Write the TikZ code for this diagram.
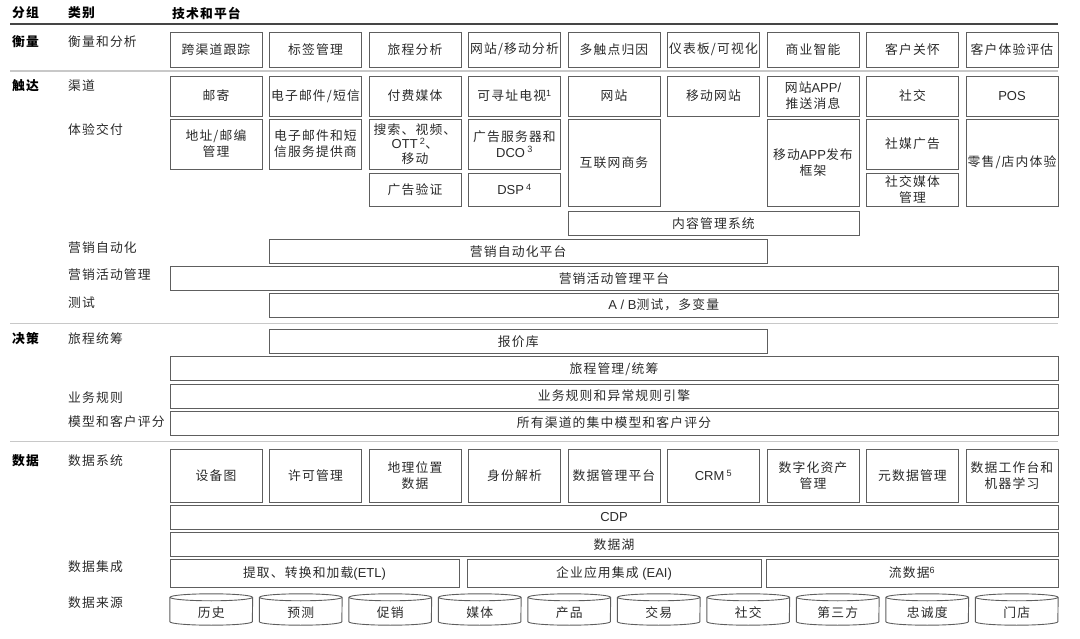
\documentclass[tikz,border=0pt]{standalone}
\usepackage{fontspec}
\setmainfont{Liberation Sans}
\newfontfamily\cjk[LetterSpace=9]{Noto Sans CJK SC}
\newfontfamily\lat{Liberation Sans}
\newcommand\ltn[1]{{\lat\fontsize{13}{16}\selectfont #1}}
\definecolor{ink}{HTML}{2A2A2A}
\definecolor{edge}{HTML}{5E5E5E}
\definecolor{rule}{HTML}{C8C8C8}
\definecolor{head}{HTML}{454545}

\begin{document}
\begin{tikzpicture}[x=1pt,y=-1pt,
	box/.style={draw=edge, line width=0.9pt, inner sep=0pt, align=center, text=ink,
		minimum width=92pt, font=\cjk\fontsize{12.8}{16}\selectfont},
	bar/.style={box, minimum height=24pt},
	can/.style={inner sep=0pt, minimum width=82.5pt, minimum height=31pt, text=ink,
		text height=15.6pt, text depth=0pt, font=\cjk\fontsize{12.8}{16}\selectfont},
	grp/.style={anchor=west, inner sep=0pt, text=black, font=\cjk\bfseries\fontsize{12.8}{16}\selectfont},
	cat/.style={anchor=west, inner sep=0pt, text=ink, font=\cjk\fontsize{12.8}{16}\selectfont}]
	\useasboundingbox (0,0) rectangle (1080,639);

	% header
	\node[grp] (h1) at (12,13) {分组};
	\node[grp] (h2) at (68,13) {类别};
	\node[grp] (h3) at (172,13) {技术和平台};
	\draw[head, line width=2.5pt] (10,24) -- (1058,24);

	% measure
	\node[grp] (g1) at (12,42) {衡量};
	\node[cat] (c1) at (68,42) {衡量和分析};
	\foreach \t [count=\i from 0] in {跨渠道跟踪,标签管理,旅程分析,网站/移动分析,多触点归因,仪表板/可视化,商业智能,客户关怀,客户体验评估}
		\node[box, minimum height=35pt] (m\i) at (216+99.5*\i,49.5) {\t};
	\draw[rule, line width=1.5pt] (10,71) -- (1058,71);

	% reach
	\node[grp] (g2) at (12,86) {触达};
	\node[cat] (c2) at (68,86) {渠道};
	\node[cat] (c3) at (68,130) {体验交付};
	\foreach \t [count=\i from 0] in {邮寄,电子邮件/短信,付费媒体,可寻址电视{\lat\textsuperscript{1}},网站,移动网站,网站\ltn{APP/}\\推送消息,社交,\ltn{POS}}
		\node[box, minimum height=40pt] (r\i) at (216+99.5*\i,96) {\t};
	\node[box, minimum height=50pt] (e0) at (216,144) {地址/邮编\\管理};
	\node[box, minimum height=50pt] (e1) at (315.5,144) {电子邮件和短\\信服务提供商};
	\node[box, minimum height=50pt] (e2) at (415,144.5) {搜索、视频、\\[-2pt]\ltn{OTT\,\textsuperscript{2}}、\\[-1pt]移动};
	\node[box, minimum height=50pt] (e3) at (514.5,144) {广告服务器和\\\ltn{DCO\,\textsuperscript{3}}};
	\node[box, minimum height=87pt] (e4) at (614,162.5) {互联网商务};
	\node[box, minimum height=87pt] (e6) at (813,162.5) {移动\ltn{APP}发布\\框架};
	\node[box, minimum height=50pt] (e7) at (912.5,144) {社媒广告};
	\node[box, minimum height=87pt] (e8) at (1012,162.5) {零售/店内体验};
	\node[box, minimum height=33pt] (v2) at (415,189.5) {广告验证};
	\node[box, minimum height=33pt] (v3) at (514.5,189.5) {\ltn{DSP\,\textsuperscript{4}}};
	\node[box, minimum height=33pt] (v7) at (912.5,189.5) {社交媒体\\管理};
	\node[bar, minimum width=291pt] (cms) at (713.5,223.75) {内容管理系统};

	\node[cat] (c4) at (68,248) {营销自动化};
	\node[cat] (c5) at (68,275) {营销活动管理};
	\node[cat] (c6) at (68,303) {测试};
	\node[bar, minimum width=497.5pt] (map) at (518.25,251.75) {营销自动化平台};
	\node[bar, minimum width=888pt] (cmp) at (614,278.5) {营销活动管理平台};
	\node[bar, minimum width=788.5pt] (abt) at (663.75,305) {\ltn{A / B}测试，多变量};
	\draw[rule, line width=1.5pt] (10,323.5) -- (1058,323.5);

	% decide
	\node[grp] (g3) at (12,339) {决策};
	\node[cat] (c7) at (68,339) {旅程统筹};
	\node[cat] (c8) at (68,398) {业务规则};
	\node[cat] (c9) at (68,422) {模型和客户评分};
	\node[bar, minimum width=497.5pt] (quo) at (518.25,341.75) {报价库};
	\node[bar, minimum width=888pt] (jny) at (614,368.75) {旅程管理/统筹};
	\node[bar, minimum width=888pt] (bre) at (614,396) {业务规则和异常规则引擎};
	\node[bar, minimum width=888pt] (mdl) at (614,423) {所有渠道的集中模型和客户评分};
	\draw[rule, line width=1.5pt] (10,441.5) -- (1058,441.5);

	% data
	\node[grp] (g4) at (12,461) {数据};
	\node[cat] (c10) at (68,461) {数据系统};
	\node[cat] (c11) at (68,567) {数据集成};
	\node[cat] (c12) at (68,603) {数据来源};
	\foreach \t [count=\i from 0] in {设备图,许可管理,地理位置\\数据,身份解析,数据管理平台,\ltn{CRM\,\textsuperscript{5}},数字化资产\\管理,元数据管理,数据工作台和\\机器学习}
		\node[box, minimum height=53pt] (d\i) at (216+99.5*\i,475.5) {\t};
	\node[bar, minimum width=888pt] (cdp) at (614,517) {\ltn{CDP}};
	\node[bar, minimum width=888pt] (lake) at (614,544.5) {数据湖};
	\node[box, minimum height=28pt, minimum width=289pt] (etl) at (314.5,573) {提取、转换和加载\ltn{(ETL)}};
	\node[box, minimum height=28pt, minimum width=294pt] (eai) at (614,573) {企业应用集成\ltn{ (EAI)}};
	\node[box, minimum height=28pt, minimum width=292pt] (str) at (912,573) {流数据{\lat\textsuperscript{6}}};
	% data sources as drums
	\foreach \t [count=\i from 0] in {历史,预测,促销,媒体,产品,交易,社交,第三方,忠诚度,门店} {
		\node[can] (s\i) at (211.25+89.5*\i,609.5) {\t};
		\draw[edge, line width=0.9pt] ([yshift=-3.5pt]s\i.north) ellipse [x radius=41.25pt, y radius=3.5pt];
		\draw[edge, line width=0.9pt] ([yshift=-3.5pt]s\i.north west) -- ([yshift=3.5pt]s\i.south west)
			arc[start angle=180, end angle=360, x radius=41.25pt, y radius=3.5pt] -- ([yshift=-3.5pt]s\i.north east);
	}
\end{tikzpicture}
\end{document}
